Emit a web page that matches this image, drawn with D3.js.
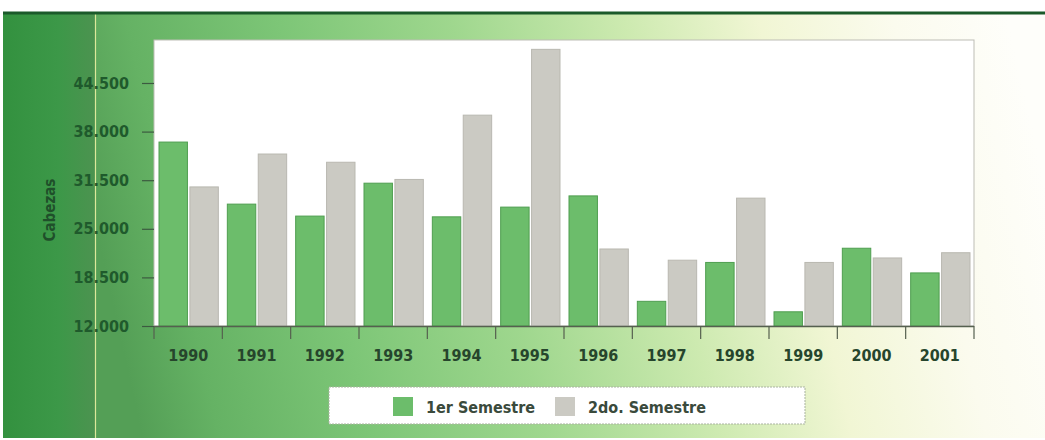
<!DOCTYPE html>
<html>
<head>
<meta charset="utf-8">
<script src="https://cdn.jsdelivr.net/npm/d3@7"></script>
<style>
  body { margin: 0; background: #fff; }
  text { font-family: "DejaVu Sans Condensed", "Liberation Sans Narrow", sans-serif; font-weight: bold; }
</style>
</head>
<body>
<div id="chart"></div>
<script>
const years = ["1990", "1991", "1992", "1993", "1994", "1995", "1996", "1997", "1998", "1999", "2000", "2001"];
const series = ["1er Semestre", "2do. Semestre"];
const sem1 = [36600, 28300, 26700, 31100, 26600, 27900, 29400, 15300, 20500, 13900, 22400, 19100];
const sem2 = [30600, 35000, 33900, 31600, 40200, 49000, 22300, 20800, 29100, 20500, 21100, 21800];
const yTicks = [12000, 18500, 25000, 31500, 38000, 44500];

const width = 1045, height = 440;
const plot = { left: 154, right: 974, top: 40, bottom: 326 };
const colors = { "1er Semestre": "#6cbd6b", "2do. Semestre": "#cbcac3" };
const strokes = { "1er Semestre": "#4f9e50", "2do. Semestre": "#b9b8b0" };

const fmt = d3.formatLocale({ decimal: ",", thousands: ".", grouping: [3], currency: ["", ""] }).format(",d");

const svg = d3.select("#chart").append("svg")
    .attr("width", width)
    .attr("height", height);

const defs = svg.append("defs");

const bgGrad = defs.append("linearGradient")
    .attr("id", "bg")
    .attr("x1", "0").attr("y1", "0.5").attr("x2", "1").attr("y2", "0.4");
[["0%", "#549f56"], ["8%", "#65b264"], ["24%", "#7dc677"], ["42%", "#9fd78e"],
 ["60%", "#cdeab0"], ["74%", "#f1f6d4"], ["88%", "#fbfbee"], ["100%", "#fefefa"]]
    .forEach(s => bgGrad.append("stop").attr("offset", s[0]).attr("stop-color", s[1]));

const stripGrad = defs.append("linearGradient")
    .attr("id", "strip")
    .attr("x1", "0").attr("y1", "0").attr("x2", "1").attr("y2", "0");
[["0%", "#33913f"], ["60%", "#3c9848"], ["100%", "#4c9350"]]
    .forEach(s => stripGrad.append("stop").attr("offset", s[0]).attr("stop-color", s[1]));

// background panels
svg.append("rect")
    .attr("x", 95).attr("y", 12)
    .attr("width", width - 95).attr("height", 426)
    .attr("fill", "url(#bg)");

svg.append("rect")
    .attr("x", 3).attr("y", 12)
    .attr("width", 92).attr("height", 426)
    .attr("fill", "url(#strip)");

svg.append("line")
    .attr("x1", 95.5).attr("x2", 95.5)
    .attr("y1", 12).attr("y2", 438)
    .attr("stroke", "#dbe89a").attr("stroke-width", 1.2);

svg.append("line")
    .attr("x1", 3).attr("x2", width)
    .attr("y1", 13).attr("y2", 13)
    .attr("stroke", "#1b5a2a").attr("stroke-width", 3);

// plot area
svg.append("rect")
    .attr("x", plot.left).attr("y", plot.top)
    .attr("width", plot.right - plot.left).attr("height", plot.bottom - plot.top)
    .attr("fill", "#fff")
    .attr("stroke", "#bdbdb5").attr("stroke-width", 1);

const x = d3.scaleBand()
    .domain(years)
    .range([plot.left, plot.right])
    .paddingInner(0).paddingOuter(0);

const xs = d3.scaleBand()
    .domain(series)
    .range([5, x.bandwidth() - 4])
    .paddingInner(0.08);

const y = d3.scaleLinear()
    .domain([12000, 50250])
    .range([plot.bottom, plot.top]);

const values = { "1er Semestre": sem1, "2do. Semestre": sem2 };

const groups = svg.selectAll(".year")
    .data(years)
    .join("g")
    .attr("class", "year")
    .attr("transform", d => `translate(${x(d)},0)`);

groups.selectAll("rect")
    .data((d, i) => series.map(s => ({ s, v: values[s][i] })))
    .join("rect")
    .attr("x", d => xs(d.s))
    .attr("width", xs.bandwidth())
    .attr("y", d => y(d.v))
    .attr("height", d => y(12000) - y(d.v))
    .attr("fill", d => colors[d.s])
    .attr("stroke", d => strokes[d.s])
    .attr("stroke-width", 1);

// x axis: ticks on band boundaries
const xAxis = svg.append("g");
xAxis.append("line")
    .attr("x1", plot.left).attr("x2", plot.right)
    .attr("y1", plot.bottom + 0.5).attr("y2", plot.bottom + 0.5)
    .attr("stroke", "#55604f").attr("stroke-width", 1.5);

xAxis.selectAll(".xtick")
    .data(years.concat(["end"]))
    .join("line")
    .attr("class", "xtick")
    .attr("x1", d => d === "end" ? plot.right : x(d))
    .attr("x2", d => d === "end" ? plot.right : x(d))
    .attr("y1", plot.bottom).attr("y2", plot.bottom + 13)
    .attr("stroke", "#55604f").attr("stroke-width", 1.2);

xAxis.selectAll(".xlabel")
    .data(years)
    .join("text")
    .attr("class", "xlabel")
    .attr("x", d => x(d) + x.bandwidth() / 2)
    .attr("y", 361)
    .attr("text-anchor", "middle")
    .attr("font-size", 16)
    .attr("fill", "#26452c")
    .text(d => d);

// y axis
const yAxis = svg.append("g")
    .attr("transform", `translate(${plot.left},0)`)
    .call(d3.axisLeft(y).tickValues(yTicks).tickFormat(fmt).tickSize(12).tickPadding(13));

yAxis.select(".domain").remove();
yAxis.selectAll(".tick line").attr("stroke", "#3c5a40").attr("stroke-width", 1.2);
yAxis.selectAll(".tick text")
    .attr("font-size", 16)
    .attr("fill", "#1f5a2c")
    .attr("font-family", null);

svg.append("text")
    .attr("transform", "translate(55,210) rotate(-90)")
    .attr("text-anchor", "middle")
    .attr("font-size", 15)
    .attr("fill", "#1f4f2a")
    .text("Cabezas");

// legend
const legend = svg.append("g");
legend.append("rect")
    .attr("x", 329).attr("y", 387)
    .attr("width", 476).attr("height", 37)
    .attr("fill", "#fff")
    .attr("stroke", "#a9b3a0").attr("stroke-width", 1)
    .attr("stroke-dasharray", "2,1");

const legendX = [393, 555];
const items = legend.selectAll(".item")
    .data(series)
    .join("g")
    .attr("class", "item")
    .attr("transform", (d, i) => `translate(${legendX[i]},397)`);

items.append("rect")
    .attr("width", 20).attr("height", 19)
    .attr("fill", d => colors[d]);

items.append("text")
    .attr("x", 33).attr("y", 16)
    .attr("font-size", 16)
    .attr("fill", "#3a4a3c")
    .text(d => d);
</script>
</body>
</html>
